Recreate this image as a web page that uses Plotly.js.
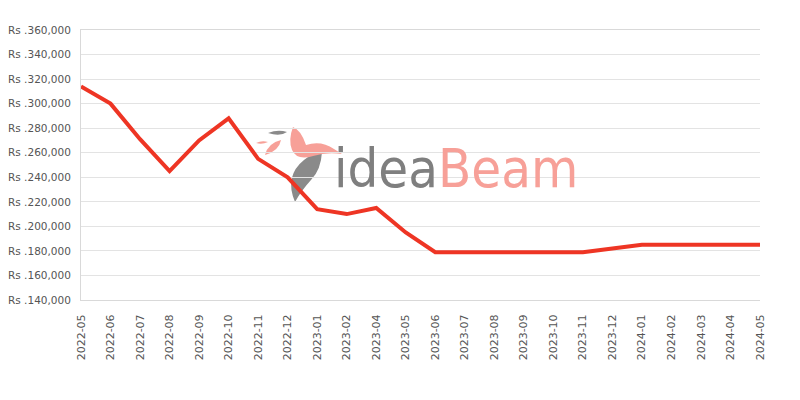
<!DOCTYPE html>
<html><head><meta charset="utf-8">
<script src="https://cdn.plot.ly/plotly-3.0.1.min.js"></script>
<style>html,body{margin:0;padding:0;background:#fff}#chart{width:800px;height:400px}</style>
</head><body><div id="chart"></div>
<script>
const months = ["2022-05","2022-06","2022-07","2022-08","2022-09","2022-10","2022-11","2022-12",
  "2023-01","2023-02","2023-04","2023-05","2023-06","2023-07","2023-08","2023-09","2023-10","2023-11","2023-12",
  "2024-01","2024-02","2024-03","2024-04","2024-05"];
const prices = [314000,300000,271000,245000,270000,288000,255000,240000,
  214000,210000,215000,195000,179000,179000,179000,179000,179000,179000,182000,
  185000,185000,185000,185000,185000];
const yTicks = [140000,160000,180000,200000,220000,240000,260000,280000,300000,320000,340000,360000];
const yLabels = yTicks.map(v => "Rs ." + v.toLocaleString("en-US"));

// watermark logo geometry (pixel space, converted to paper coords)
const L = 81, R = 760, T = 30, B = 300;
function P(pts) {
  return pts.replace(/(-?\d+(?:\.\d+)?) (-?\d+(?:\.\d+)?)/g, (m, a, b) =>
    ((+a - L) / (R - L)).toFixed(4) + "," + ((B - +b) / (B - T)).toFixed(4));
}
const logoShapes = [
  {path: "M 295 202 Q 284 176 304 160 Q 316 150 322 152 Q 321 170 311 180 Q 301 191 295 202 Z", color: "#8a8a8a"},
  {path: "M 268 133 Q 278 129 287 132 Q 280 137 268 133 Z", color: "#8a8a8a"},
  {path: "M 293 127 Q 301 130 306 145 Q 321 140 334 149 L 342 154 Q 326 152 313 156 Q 297 161 292 150 Q 288 140 293 127 Z", color: "#f7a098"},
  {path: "M 256 143 Q 262 140 268 142 Q 262 145 256 143 Z", color: "#f7a098"},
  {path: "M 265 155 Q 268 143 281 140 Q 279 151 265 155 Z", color: "#f7a098"}
].map(s => ({type: "path", xref: "paper", yref: "paper", path: P(s.path),
  fillcolor: s.color, line: {width: 0}, layer: "below"}));

const trace = {
  x: months, y: prices, type: "scatter", mode: "lines",
  line: {color: "#ee3524", width: 4},
  hoverinfo: "x+y"
};
const layout = {
  width: 800, height: 400,
  margin: {l: 81, r: 40, t: 30, b: 100},
  paper_bgcolor: "#fff", plot_bgcolor: "rgba(0,0,0,0)",
  showlegend: false,
  font: {family: "DejaVu Sans, sans-serif", size: 11, color: "#555"},
  xaxis: {
    type: "category", tickangle: -90, range: [0, months.length - 1],
    showgrid: false, showline: true, linecolor: "#d9d9d9", linewidth: 1, mirror: true,
    ticks: "", ticklabelstandoff: 9, tickfont: {size: 11, color: "#555"}, zeroline: false
  },
  yaxis: {
    range: [140000, 360000], tickvals: yTicks, ticktext: yLabels,
    showgrid: true, gridcolor: "#e3e3e3", showline: true, linecolor: "#d9d9d9",
    ticks: "", ticklabelstandoff: 7, tickfont: {size: 10.5, color: "#555"}, zeroline: false
  },
  shapes: logoShapes,
  annotations: [
    {xref: "paper", yref: "paper", x: (332 - L) / (R - L), y: (B - 168) / (B - T), xanchor: "left", yanchor: "middle",
     text: "<span style='color:#7f7f7f'>idea</span><span style='color:#f7a098'>Beam</span>",
     showarrow: false, font: {family: "DejaVu Sans Condensed, DejaVu Sans, sans-serif", size: 54}}
  ]
};
Plotly.newPlot("chart", [trace], layout, {displayModeBar: false, staticPlot: true});
</script></body></html>
